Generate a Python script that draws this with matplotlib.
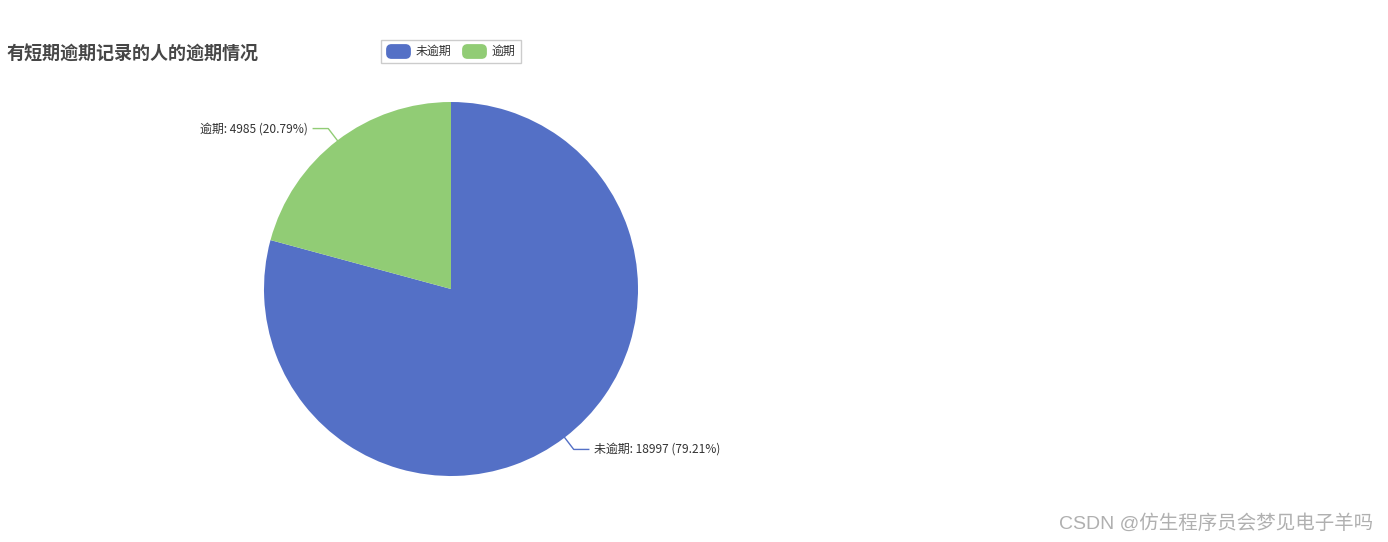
import numpy as np
import matplotlib
matplotlib.use("Agg")
import matplotlib.pyplot as plt
from matplotlib.patches import FancyBboxPatch

plt.rcParams['font.family'] = ['Noto Sans CJK SC', 'DejaVu Sans']

title = "有短期逾期记录的人的逾期情况"
categories = ["未逾期", "逾期"]
values = [18997, 4985]
colors = ["#5470c6", "#91cc75"]
watermark = "CSDN @仿生程序员会梦见电子羊吗"

W, H = 1388, 542
fig = plt.figure(figsize=(W / 100, H / 100), dpi=100)
ax = fig.add_axes([0, 0, 1, 1])

cx, cy, R = 451, H - 289, 187
wedges, _ = ax.pie(values, colors=colors, startangle=90, counterclock=False,
                   center=(cx, cy), radius=R,
                   wedgeprops=dict(linewidth=0))
ax.set_xlim(0, W)
ax.set_ylim(0, H)
ax.set_aspect('equal')
ax.axis('off')

total = sum(values)
for w, name, v, c in zip(wedges, categories, values, colors):
    mid = np.deg2rad((w.theta1 + w.theta2) / 2)
    x0, y0 = cx + R * np.cos(mid), cy + R * np.sin(mid)
    x1, y1 = cx + (R + 15) * np.cos(mid), cy + (R + 15) * np.sin(mid)
    side = 1 if np.cos(mid) >= 0 else -1
    x2 = x1 + side * 15
    ax.plot([x0, x1, x2], [y0, y1, y1], color=c, lw=1)
    ax.text(x2 + side * 5, y1, f"{name}: {v} ({v / total * 100:.2f}%)",
            ha='left' if side > 0 else 'right', va='center',
            fontsize=8.6, color='#333333')

ax.text(7, H - 54, title, fontsize=13, fontweight='bold', color='#464646',
        ha='left', va='center')

# legend
ax.add_patch(FancyBboxPatch((381, H - 63), 140, 23, boxstyle="square,pad=0",
                            facecolor='white', edgecolor='#cccccc', lw=1))
lx = [386, 462]
for x, name, c in zip(lx, categories, colors):
    ax.add_patch(FancyBboxPatch((x + 1.5, H - 57.5), 22, 12,
                                boxstyle="round,pad=0,rounding_size=4",
                                mutation_aspect=1, facecolor=c, edgecolor=c, lw=2))
    ax.text(x + 30, H - 51, name, fontsize=8.6, color='#333333',
            ha='left', va='center')

ax.text(1373, H - 523, watermark, fontsize=14, color='#b0b0b0',
        ha='right', va='center', family=['Liberation Sans', 'Noto Sans CJK SC'])

fig.savefig("out.png", dpi=100)
